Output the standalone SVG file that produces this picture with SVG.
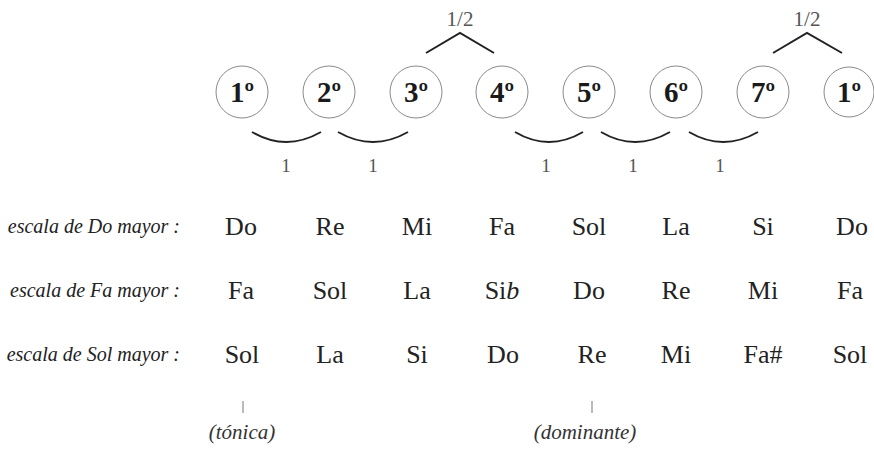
<svg xmlns="http://www.w3.org/2000/svg" width="874" height="449" viewBox="0 0 874 449">
<style>
text{font-family:'Liberation Serif','Times New Roman','DejaVu Serif',serif}
.deg circle{fill:none;stroke:#8a8a8a;stroke-width:1}
.deg text{font-weight:bold;font-size:29px;fill:#1a1a1a;text-anchor:middle}
.arc{fill:none;stroke:#222;stroke-width:2}
.tick{stroke:#777;stroke-width:1}
.num{font-size:19px;fill:#555;text-anchor:middle}
.half{font-size:21px}
.lab{font-style:italic;font-size:20px;fill:#222;text-anchor:end}
.note{font-size:26px;fill:#222;text-anchor:middle}
.ann{font-style:italic;font-size:21px;fill:#333;text-anchor:middle}
</style>
<rect width="874" height="449" fill="#fff"/>
<g id="connectors">
<path class="arc" d="M252,132 Q286,152 321,132"/>
<path class="arc" d="M338,132 Q373,152 408,132"/>
<path class="arc" d="M515,132 Q549,152 583,132"/>
<path class="arc" d="M601,132 Q635,152 670,132"/>
<path class="arc" d="M689,132 Q723,152 758,132"/>
<polyline class="arc" points="426,53 460,33 494,53"/>
<polyline class="arc" points="773,53 807,33 842,53"/>
<line class="tick" x1="243" y1="401" x2="243" y2="413"/>
<line class="tick" x1="592" y1="401" x2="592" y2="413"/>
</g>
<g id="intervals">
<text class="num half" x="460" y="26">1/2</text>
<text class="num half" x="807" y="26">1/2</text>
<text class="num" x="286" y="172">1</text>
<text class="num" x="373" y="172">1</text>
<text class="num" x="546" y="172">1</text>
<text class="num" x="633" y="172">1</text>
<text class="num" x="720" y="172">1</text>
</g>
<g id="deg1" class="deg"><circle cx="242" cy="92" r="26"/><text x="242" y="102">1º</text></g>
<g id="deg2" class="deg"><circle cx="329" cy="92" r="26"/><text x="329" y="102">2º</text></g>
<g id="deg3" class="deg"><circle cx="416" cy="92" r="26"/><text x="416" y="102">3º</text></g>
<g id="deg4" class="deg"><circle cx="502" cy="92" r="26"/><text x="502" y="102">4º</text></g>
<g id="deg5" class="deg"><circle cx="589" cy="92" r="26"/><text x="589" y="102">5º</text></g>
<g id="deg6" class="deg"><circle cx="676" cy="92" r="26"/><text x="676" y="102">6º</text></g>
<g id="deg7" class="deg"><circle cx="763" cy="92" r="26"/><text x="763" y="102">7º</text></g>
<g id="deg8" class="deg"><circle cx="849" cy="92" r="25"/><text x="849" y="102">1º</text></g>
<g id="row-do">
<text class="lab" x="180" y="233">escala de Do mayor :</text>
<text class="note" x="241" y="235">Do</text>
<text class="note" x="330" y="235">Re</text>
<text class="note" x="417" y="235">Mi</text>
<text class="note" x="502" y="235">Fa</text>
<text class="note" x="589" y="235">Sol</text>
<text class="note" x="676" y="235">La</text>
<text class="note" x="763" y="235">Si</text>
<text class="note" x="852" y="235">Do</text>
</g>
<g id="row-fa">
<text class="lab" x="180" y="297">escala de Fa mayor :</text>
<text class="note" x="241" y="299">Fa</text>
<text class="note" x="330" y="299">Sol</text>
<text class="note" x="417" y="299">La</text>
<text class="note" x="502" y="299">Si<tspan font-style="italic">b</tspan></text>
<text class="note" x="589" y="299">Do</text>
<text class="note" x="676" y="299">Re</text>
<text class="note" x="763" y="299">Mi</text>
<text class="note" x="850" y="299">Fa</text>
</g>
<g id="row-sol">
<text class="lab" x="180" y="361">escala de Sol mayor :</text>
<text class="note" x="242" y="363">Sol</text>
<text class="note" x="330" y="363">La</text>
<text class="note" x="417" y="363">Si</text>
<text class="note" x="503" y="363">Do</text>
<text class="note" x="592" y="363">Re</text>
<text class="note" x="676" y="363">Mi</text>
<text class="note" x="763" y="363">Fa#</text>
<text class="note" x="850" y="363">Sol</text>
</g>
<g id="annotations">
<text class="ann" x="242" y="439">(tónica)</text>
<text class="ann" x="585" y="439">(dominante)</text>
</g>
</svg>
